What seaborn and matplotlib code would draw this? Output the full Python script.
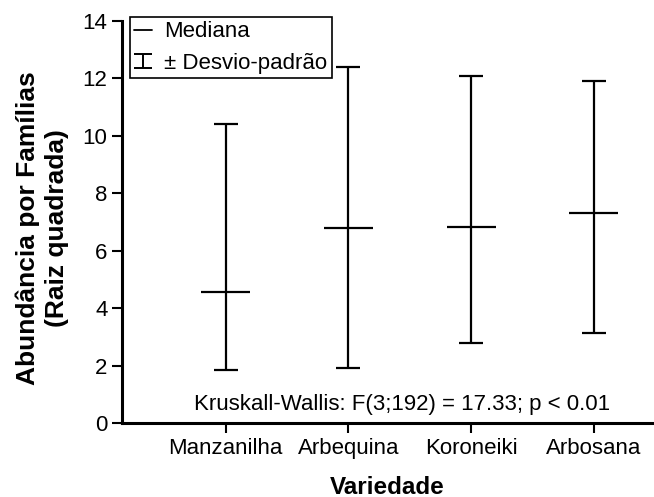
import matplotlib
matplotlib.use("Agg")
import matplotlib.pyplot as plt
import seaborn as sns
import numpy as np
import pandas as pd
from matplotlib.lines import Line2D
from matplotlib.container import ErrorbarContainer
from matplotlib.legend_handler import HandlerErrorbar

sns.set_theme(style="ticks", rc={"text.color": "black", "axes.labelcolor": "black",
                                 "xtick.color": "black", "ytick.color": "black"})
plt.rcParams["font.family"] = ["Liberation Sans", "DejaVu Sans"]

# Median and ± standard deviation limits (square-root abundance)
variedades = ["Manzanilha", "Arbequina", "Koroneiki", "Arbosana"]
mediana = [4.55, 6.78, 6.83, 7.32]
inferior = [1.84, 1.9, 2.8, 3.15]
superior = [10.4, 12.4, 12.1, 11.9]
y_ticks = [0, 2, 4, 6, 8, 10, 12, 14]

df = pd.DataFrame({"Variedade": variedades, "Mediana": mediana,
                   "Inferior": inferior, "Superior": superior})
x = np.arange(len(df))

W, H = 654, 497
fig = plt.figure(figsize=(W / 100, H / 100), dpi=100)
ax = fig.add_axes([122 / W, 1 - 423 / H, 1 - 122 / W, 402 / H])

# ± standard deviation bars
yerr = [df["Mediana"] - df["Inferior"], df["Superior"] - df["Mediana"]]
ax.errorbar(x, df["Mediana"], yerr=yerr, fmt="none", ecolor="black",
            elinewidth=1.6, capsize=8.5, capthick=1.6)

# Median lines
ax.hlines(df["Mediana"], x - 0.2, x + 0.2, color="black", linewidth=1.6)

# Smaller errorbar used only as the legend key (placed outside the view)
eb_key = ax.errorbar([-10], [5], yerr=[1], fmt="none", ecolor="black",
                     elinewidth=1.4, capsize=6.5, capthick=1.4)

ax.set_xlim(-0.845, 3.49)
ax.set_ylim(0, 14)
ax.set_xticks(x)
ax.set_xticklabels(df["Variedade"], fontsize=16)
ax.set_yticks(y_ticks)
ax.set_yticklabels([str(t) for t in y_ticks], fontsize=16)
ax.tick_params(axis="both", direction="out", length=7.5, width=1.5,
               color="black", labelcolor="black", pad=3)

sns.despine(ax=ax)
for side in ("left", "bottom"):
    ax.spines[side].set_linewidth(2.2)
    ax.spines[side].set_color("black")

fig.text(387.5 / W, 1 - 487 / H, "Variedade", ha="center", va="center",
         fontsize=17.5, fontweight="bold", color="black")
fig.text(42 / W, 1 - 228 / H, "Abundância por Famílias\n(Raiz quadrada)",
         ha="center", va="center", rotation=90, multialignment="center",
         fontsize=19, fontweight="bold", color="black", linespacing=1.25)

ax.text(1.437, 0.63, "Kruskall-Wallis: F(3;192) = 17.33; p < 0.01",
        ha="center", va="center", fontsize=16, color="black")

median_handle = Line2D([], [], color="black", linewidth=1.3)
leg = ax.legend([median_handle, eb_key], ["Mediana", "± Desvio-padrão"],
                handler_map={ErrorbarContainer: HandlerErrorbar(yerr_size=0.31)},
                loc="upper left", bbox_to_anchor=(130 / W, 1 - 17 / H),
                bbox_transform=fig.transFigure, borderaxespad=0,
                fontsize=16, frameon=True, fancybox=False, shadow=False,
                handlelength=0.8, handletextpad=0.55, borderpad=0.2,
                labelspacing=0.47, framealpha=1)
leg.get_frame().set_edgecolor("black")
leg.get_frame().set_linewidth(1.2)
for t in leg.get_texts():
    t.set_color("black")

fig.savefig("out.png", dpi=100)
